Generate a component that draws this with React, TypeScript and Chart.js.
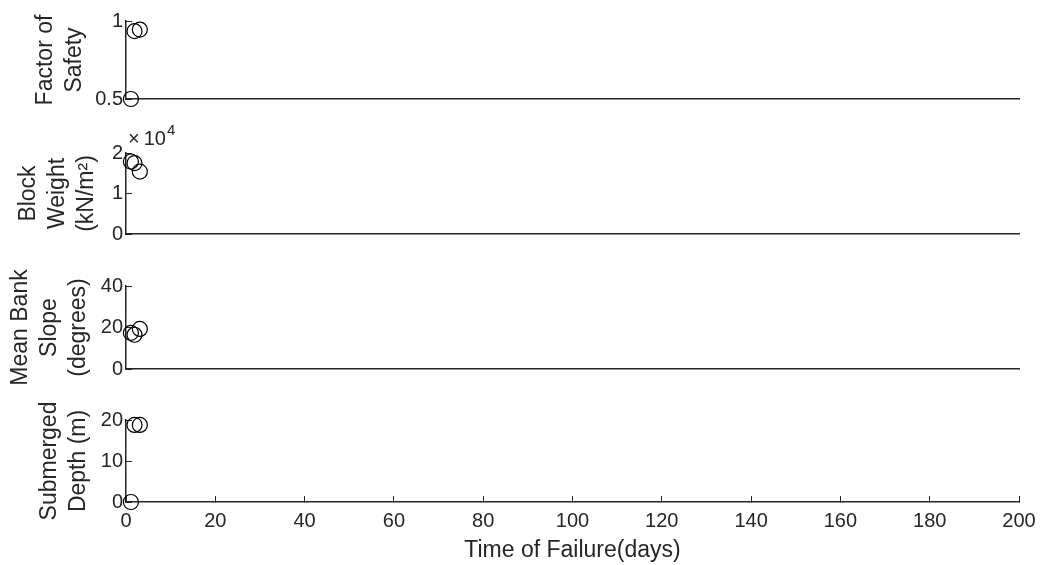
import React, { useEffect, useRef } from 'react';
import { Chart, registerables } from 'chart.js';

Chart.register(...registerables);
Chart.defaults.font.family = "'Liberation Sans', Arial, Helvetica, sans-serif";

// ---- data ----
const timeOfFailure = [1.1, 1.9, 3.1]; // days
const factorOfSafety = [0.5, 0.935, 0.945];
const blockWeight = [17900, 17500, 15400]; // kN/m^2
const meanBankSlope = [17.4, 16.5, 19.3]; // degrees
const submergedDepth = [0, 18.8, 18.8]; // m

const xTitle = 'Time of Failure(days)';
const fosTitle = ['Factor of', 'Safety'];
const weightTitle = ['Block', 'Weight', '(kN/m²)'];
const slopeTitle = ['Mean Bank', 'Slope', '(degrees)'];
const depthTitle = ['Submerged', 'Depth (m)'];
const weightExponent = '4';

const TEXT = '#262626';
const AXIS = '#262626';

const exponentPlugin = {
  id: 'exponentLabel',
  afterDraw(chart: any, _args: any, opts: any) {
    if (!opts || !opts.sup) return;
    const { ctx, chartArea } = chart;
    ctx.save();
    ctx.fillStyle = TEXT;
    ctx.textBaseline = 'alphabetic';
    ctx.textAlign = 'left';
    ctx.font = "20px 'Liberation Sans', Arial, sans-serif";
    const x = chartArea.left + 2;
    const y = chartArea.top - 8;
    ctx.fillText('×', x, y);
    const wx = ctx.measureText('×').width;
    ctx.fillText('10', x + wx + 4, y);
    const w10 = ctx.measureText('10').width;
    ctx.font = "15px 'Liberation Sans', Arial, sans-serif";
    ctx.fillText(opts.sup, x + wx + 4 + w10 + 1, y - 10);
    ctx.restore();
  },
};

type PanelProps = {
  values: number[];
  title: string[];
  min: number;
  max: number;
  step: number;
  fmt?: (v: number) => string;
  plotTop: number;
  plotBottom: number;
  bandTop: number;
  bandBottom: number;
  titlePad: number;
  isBottom: boolean;
  sup?: string;
};

const PLOT_LEFT = 126;
const PLOT_RIGHT = 1019;
const WIDTH = 1042;

function Panel(p: PanelProps) {
  const ref = useRef<HTMLCanvasElement | null>(null);
  const h = p.bandBottom - p.bandTop;
  useEffect(() => {
    if (!ref.current) return;
    const chart = new Chart(ref.current, {
      type: 'scatter',
      data: {
        datasets: [
          {
            data: timeOfFailure.map((t, i) => ({ x: t, y: p.values[i] })),
            pointStyle: 'circle',
            pointRadius: 7.5,
            pointBorderWidth: 1.2,
            pointBorderColor: '#000000',
            pointBackgroundColor: 'rgba(0,0,0,0)',
            showLine: false,
            clip: false as any,
          },
        ],
      },
      plugins: [exponentPlugin],
      options: {
        responsive: false,
        maintainAspectRatio: false,
        animation: false,
        events: [],
        layout: {
          padding: {
            left: 0,
            right: WIDTH - PLOT_RIGHT,
            top: p.plotTop - p.bandTop,
            bottom: p.isBottom ? 0 : p.bandBottom - p.plotBottom,
          },
        },
        plugins: {
          legend: { display: false },
          tooltip: { enabled: false },
          exponentLabel: { sup: p.sup },
        } as any,
        scales: {
          x: {
            type: 'linear',
            position: 'bottom',
            min: 0,
            max: 200,
            ticks: {
              display: p.isBottom,
              stepSize: 20,
              padding: 13,
              color: TEXT,
              font: { size: 20 },
              maxRotation: 0,
              autoSkip: false,
            },
            grid: {
              display: p.isBottom,
              drawOnChartArea: false,
              drawTicks: true,
              tickLength: -6,
              color: AXIS,
              lineWidth: 1,
            },
            border: { display: true, color: AXIS, width: 1.5 },
            title: {
              display: p.isBottom,
              text: xTitle,
              color: TEXT,
              font: { size: 23 },
              padding: { top: 0, bottom: 1 },
            },
            afterFit: (s: any) => {
              s.height = p.isBottom ? p.bandBottom - p.plotBottom : 0;
              s.paddingLeft = 0;
              s.paddingRight = 0;
            },
          },
          y: {
            type: 'linear',
            position: 'left',
            min: p.min,
            max: p.max,
            ticks: {
              stepSize: p.step,
              padding: 9,
              color: TEXT,
              font: { size: 20 },
              autoSkip: false,
              callback: (v: any) => (p.fmt ? p.fmt(Number(v)) : String(Number(v))),
            },
            grid: {
              display: true,
              drawOnChartArea: false,
              drawTicks: true,
              tickLength: -6,
              color: AXIS,
              lineWidth: 1,
            },
            border: { display: true, color: AXIS, width: 1.5 },
            title: {
              display: true,
              text: p.title,
              color: TEXT,
              font: { size: 23, lineHeight: '29px' as any },
              padding: { top: p.titlePad, bottom: 0 },
            },
            afterFit: (s: any) => {
              s.width = PLOT_LEFT;
            },
          },
        },
      } as any,
    });
    return () => chart.destroy();
  }, []);
  return (
    <div style={{ position: 'absolute', left: 0, top: p.bandTop, width: WIDTH, height: h }}>
      <canvas ref={ref} width={WIDTH} height={h} style={{ display: 'block', width: WIDTH, height: h }} />
    </div>
  );
}

export default function App() {
  return (
    <div style={{ position: 'absolute', left: 0, top: 0, width: WIDTH, height: 565, background: '#ffffff', overflow: 'hidden' }}>
      <Panel values={factorOfSafety} title={fosTitle} min={0.5} max={1} step={0.5}
        plotTop={17} plotBottom={100} bandTop={0} bandBottom={120} titlePad={31} isBottom={false} />
      <Panel values={blockWeight} title={weightTitle} min={0} max={20000} step={10000}
        fmt={(v) => String(v / 10000)} sup={weightExponent}
        plotTop={153} plotBottom={235} bandTop={118} bandBottom={255} titlePad={14.5} isBottom={false} />
      <Panel values={meanBankSlope} title={slopeTitle} min={0} max={40} step={20}
        plotTop={286} plotBottom={369} bandTop={255} bandBottom={390} titlePad={6.5} isBottom={false} />
      <Panel values={submergedDepth} title={depthTitle} min={0} max={20} step={10}
        plotTop={420} plotBottom={502} bandTop={395} bandBottom={565} titlePad={35.5} isBottom={true} />
    </div>
  );
}
